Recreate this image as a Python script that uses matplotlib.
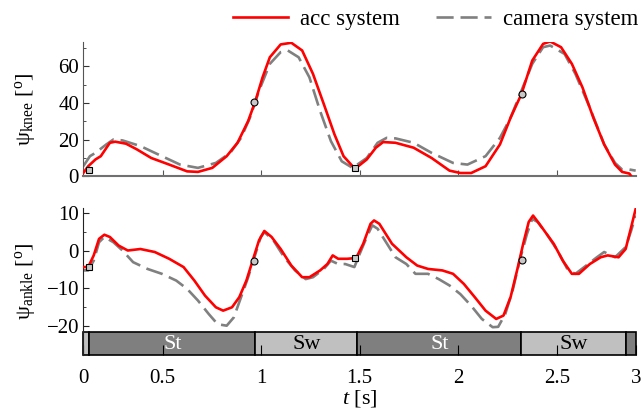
import matplotlib
matplotlib.use("Agg")
import matplotlib.pyplot as plt
from matplotlib.lines import Line2D

plt.rcParams["font.family"] = ["Liberation Serif", "DejaVu Serif"]
plt.rcParams["mathtext.fontset"] = "custom"
plt.rcParams["mathtext.rm"] = "Liberation Serif"
plt.rcParams["mathtext.it"] = "Liberation Serif:italic"
plt.rcParams["font.size"] = 15

# time window of the recording [s]
T_START, T_END = 0.097, 2.901

# knee angle, accelerometer system
knee_acc_t = [0.097, 0.122, 0.159, 0.186, 0.232, 0.259, 0.314, 0.369, 0.442, 0.533,
              0.624, 0.679, 0.752, 0.825, 0.880, 0.934, 0.971, 1.007, 1.044, 1.099,
              1.153, 1.208, 1.263, 1.318, 1.372, 1.418, 1.464, 1.482, 1.536, 1.582,
              1.619, 1.682, 1.774, 1.865, 1.956, 2.011, 2.066, 2.139, 2.212, 2.266,
              2.321, 2.376, 2.431, 2.467, 2.522, 2.577, 2.631, 2.686, 2.741, 2.796,
              2.832, 2.869, 2.882]
knee_acc = [1.8, 5.5, 9.2, 11.0, 18.3, 18.9, 17.8, 14.7, 10.0, 6.4,
            2.7, 2.4, 4.6, 11.0, 18.3, 30.2, 41.2, 54.0, 65.0, 72.0,
            72.9, 68.7, 55.9, 39.4, 22.9, 11.0, 5.5, 4.6, 9.2, 15.6,
            18.7, 18.3, 15.6, 10.0, 3.1, 1.8, 1.8, 5.5, 17.4, 32.0,
            44.9, 63.2, 72.3, 73.6, 70.5, 61.4, 48.5, 32.0, 17.4, 6.4,
            2.4, 1.5, -0.5]

# knee angle, camera system
knee_cam_t = [0.097, 0.131, 0.159, 0.214, 0.250, 0.296, 0.387, 0.478, 0.588, 0.679,
              0.770, 0.843, 0.898, 0.943, 0.989, 1.044, 1.099, 1.135, 1.190, 1.245,
              1.299, 1.354, 1.409, 1.464, 1.536, 1.591, 1.637, 1.682, 1.774, 1.865,
              1.974, 2.047, 2.139, 2.212, 2.266, 2.321, 2.376, 2.431, 2.467, 2.540,
              2.595, 2.668, 2.741, 2.796, 2.832, 2.869, 2.901]
knee_cam = [5.5, 11.0, 12.8, 17.4, 20.1, 19.6, 16.5, 11.9, 6.4, 4.6,
            7.3, 12.8, 21.0, 32.0, 46.7, 61.4, 67.8, 68.7, 65.0, 54.0,
            35.7, 19.2, 8.2, 4.6, 10.0, 18.3, 21.0, 20.7, 18.3, 12.8,
            7.3, 6.4, 11.0, 21.0, 32.0, 46.7, 61.4, 70.5, 71.4, 66.8,
            55.9, 37.5, 17.4, 7.3, 3.7, 3.7, 3.1]

# ankle angle, accelerometer system
ankle_acc_t = [0.097, 0.122, 0.150, 0.177, 0.204, 0.232, 0.277, 0.323, 0.387, 0.460,
               0.533, 0.606, 0.661, 0.715, 0.770, 0.807, 0.852, 0.889, 0.925, 0.962,
               0.989, 1.016, 1.053, 1.099, 1.153, 1.208, 1.245, 1.299, 1.336, 1.363,
               1.391, 1.436, 1.482, 1.518, 1.555, 1.573, 1.600, 1.664, 1.737, 1.792,
               1.847, 1.920, 1.974, 2.029, 2.084, 2.139, 2.193, 2.230, 2.266, 2.303,
               2.330, 2.358, 2.380, 2.412, 2.449, 2.485, 2.531, 2.577, 2.613, 2.668,
               2.723, 2.759, 2.814, 2.850, 2.878, 2.901]
ankle_acc = [-4.4, -4.4, -1.3, 3.1, 4.2, 3.6, 1.3, 0.0, 0.4, -0.4,
             -2.2, -4.4, -8.0, -12.0, -15.1, -16.0, -15.1, -12.4, -8.0, -1.8,
             2.7, 5.2, 3.6, 0.4, -4.0, -7.1, -7.1, -5.3, -3.6, -1.3,
             -2.2, -2.2, -2.0, 1.8, 7.1, 8.0, 7.1, 1.8, -1.8, -4.0,
             -4.9, -5.3, -6.2, -8.9, -12.4, -16.0, -18.2, -17.3, -12.4, -4.4,
             1.8, 7.6, 9.3, 7.1, 4.4, 1.8, -2.7, -6.2, -6.2, -3.6,
             -1.8, -1.3, -1.8, 0.4, 6.2, 11.1]

# ankle angle, camera system
ankle_cam_t = [0.097, 0.122, 0.150, 0.177, 0.204, 0.250, 0.296, 0.350, 0.423, 0.496,
               0.569, 0.624, 0.679, 0.734, 0.779, 0.825, 0.861, 0.898, 0.934, 0.971,
               0.998, 1.016, 1.062, 1.117, 1.172, 1.226, 1.263, 1.318, 1.354, 1.391,
               1.427, 1.473, 1.500, 1.536, 1.564, 1.591, 1.628, 1.682, 1.737, 1.783,
               1.847, 1.901, 1.956, 2.011, 2.066, 2.120, 2.175, 2.203, 2.239, 2.276,
               2.312, 2.349, 2.376, 2.403, 2.449, 2.504, 2.558, 2.595, 2.650, 2.704,
               2.741, 2.796, 2.850, 2.878, 2.901]
ankle_cam = [-5.3, -5.3, -2.7, 2.2, 3.6, 2.2, 0.0, -3.1, -4.9, -6.2,
             -8.0, -10.2, -13.3, -16.9, -19.6, -20.0, -17.8, -12.4, -7.1, -0.9,
             3.6, 4.9, 2.7, -1.8, -5.3, -7.6, -7.1, -4.9, -2.7, -3.6,
             -3.6, -4.4, -0.9, 3.6, 6.7, 5.8, 2.7, -1.8, -3.6, -6.2,
             -6.2, -7.6, -9.3, -11.6, -14.7, -18.2, -20.4, -20.3, -16.9, -10.7,
             -2.7, 4.4, 8.4, 7.6, 4.4, 0.0, -5.3, -6.2, -4.0, -1.8,
             -0.4, -1.8, 0.9, 5.3, 9.3]

# gait events: heel strike (square) and toe off (circle)
hs_t = [0.125, 1.478]
hs_knee = [3.7, 4.6]
hs_ankle = [-4.4, -2.0]
to_t = [0.966, 2.325]
to_knee = [40.3, 45.2]
to_ankle = [-2.7, -2.5]

# gait phases shown in the bar under the ankle plot
phase_edges = [T_START, 0.128, 0.971, 1.487, 2.321, 2.850, T_END]
phase_names = ["Sw", "St", "Sw", "St", "Sw", "St"]
phase_labels = ["", "St", "Sw", "St", "Sw", ""]

xtick_labels = ["0", "0.5", "1", "1.5", "2", "2.5", "3"]

RED = "#ff0000"
GRAY = "#808080"
ACC_STYLE = dict(color=RED, lw=1.9, solid_joinstyle="round", zorder=3)
CAM_STYLE = dict(color=GRAY, lw=1.9, dashes=(6.5, 2.6), zorder=2)
EV_STYLE = dict(ls="none", mfc="#c8c8c8", mec="black", mew=0.8, ms=5, zorder=4)

fig = plt.figure(figsize=(6.44, 4.16), dpi=100)
ax1 = fig.add_axes([0.1293, 0.5762, 0.8578, 0.3236])
ax2 = fig.add_axes([0.1293, 0.1466, 0.8578, 0.3524])

# knee
ax1.plot(knee_cam_t, knee_cam, **CAM_STYLE)
ax1.plot(knee_acc_t, knee_acc, **ACC_STYLE)
ax1.plot(hs_t, hs_knee, marker="s", **EV_STYLE)
ax1.plot(to_t, to_knee, marker="o", **EV_STYLE)
ax1.set_xlim(T_START, T_END)
ax1.set_ylim(0, 73.5)
ax1.set_yticks([0, 20, 40, 60])
ax1.set_yticks([10, 30, 50, 70], minor=True)
ax1.set_xticks([0.5, 1.0, 1.5, 2.0, 2.5])
ax1.tick_params(axis="x", labelbottom=False, direction="in", length=4, color="#555555")
ax1.tick_params(axis="y", which="both", direction="in", color="#333333")
ax1.tick_params(axis="y", which="major", length=4, pad=3)
ax1.tick_params(axis="y", which="minor", length=2.5)
for side in ["top", "right"]:
    ax1.spines[side].set_visible(False)
ax1.spines["bottom"].set_color("#707070")
ax1.spines["bottom"].set_linewidth(1.5)
ax1.spines["left"].set_color("#555555")
ax1.set_ylabel("ψ$_{\\rm knee}$ [$^{\\rm o}$]", fontsize=16)
ax1.yaxis.set_label_coords(-0.082, 0.5)

# ankle
ax2.plot(ankle_cam_t, ankle_cam, **CAM_STYLE)
ax2.plot(ankle_acc_t, ankle_acc, **ACC_STYLE)
ax2.plot(hs_t, hs_ankle, marker="s", **EV_STYLE)
ax2.plot(to_t, to_ankle, marker="o", **EV_STYLE)
ax2.set_xlim(T_START, T_END)
ax2.set_ylim(-27.8, 11.2)
ax2.set_yticks([-20, -10, 0, 10])
ax2.set_yticks([-15, -5, 5], minor=True)
ax2.tick_params(axis="y", which="both", direction="in", color="#222222")
ax2.tick_params(axis="y", which="major", length=4, pad=3)
ax2.tick_params(axis="y", which="minor", length=2.5)

# phase bar along the bottom of the ankle axes
bar_bottom, bar_height = -27.8, 6.0
for i, name in enumerate(phase_names):
    left, right = phase_edges[i], phase_edges[i + 1]
    fc = "#7f7f7f" if name == "St" else "#c0c0c0"
    ax2.bar(left, bar_height, width=right - left, bottom=bar_bottom, align="edge",
            color=fc, edgecolor="black", linewidth=1.2, zorder=1, clip_on=False)
    if phase_labels[i]:
        ax2.text((left + right) / 2, bar_bottom + bar_height / 2 - 0.3, phase_labels[i],
                 ha="center", va="center", fontsize=16,
                 color="white" if name == "St" else "black", zorder=5)

ax2.set_xticks([T_START, 0.5, 1.0, 1.5, 2.0, 2.5, T_END], xtick_labels)
ax2.tick_params(axis="x", direction="in", length=7, color="black", pad=10)
for side in ["top", "right", "bottom"]:
    ax2.spines[side].set_visible(False)
ax2.spines["left"].set_color("#222222")
ax2.set_ylabel("ψ$_{\\rm ankle}$ [$^{\\rm o}$]", fontsize=16)
ax2.yaxis.set_label_coords(-0.082, 0.5)
ax2.set_xlabel("$t$ [s]", labelpad=0, fontsize=16)

handles = [Line2D([], [], **{k: v for k, v in ACC_STYLE.items() if k != "zorder"}),
           Line2D([], [], **{k: v for k, v in CAM_STYLE.items() if k != "zorder"})]
fig.legend(handles, ["acc system", "camera system"], loc="upper right",
           bbox_to_anchor=(1.005, 1.0), ncol=2, frameon=False, borderaxespad=0.0,
           handlelength=2.4, handletextpad=0.5, columnspacing=1.6, fontsize=16.5)

fig.savefig("out.png", dpi=100)
